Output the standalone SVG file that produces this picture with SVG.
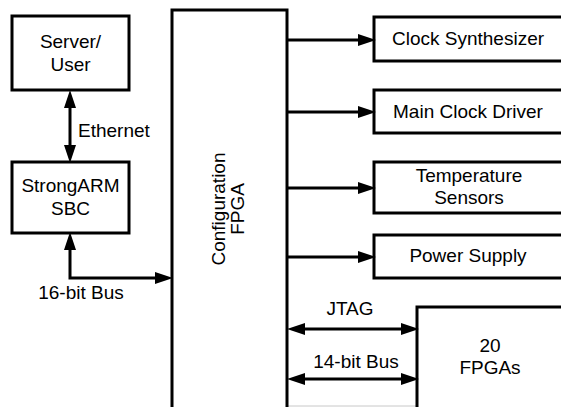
<svg xmlns="http://www.w3.org/2000/svg" width="561" height="407" viewBox="0 0 561 407">
<defs>
<style>
.box{fill:#fff;stroke:#000;stroke-width:3}
.ln{fill:none;stroke:#000;stroke-width:3}
text{font-family:"Liberation Sans",Arial,sans-serif;font-size:19px;fill:#000;text-anchor:middle}
</style>
<marker id="ah" markerUnits="userSpaceOnUse" viewBox="0 0 18 12" markerWidth="18" markerHeight="12" refX="8" refY="6" orient="auto-start-reverse">
<path d="M0,0 L18,6 L0,12 z" fill="#000"/>
</marker>
</defs>
<rect x="0" y="0" width="561" height="407" fill="#fff"/>
<line x1="173" y1="406" x2="561" y2="406" stroke="#c8c8c8" stroke-width="1"/>
<g id="server">
<rect class="box" x="12" y="16" width="117" height="74"/>
<text x="70.5" y="48">Server/</text>
<text x="70.5" y="71">User</text>
</g>
<g id="sbc">
<rect class="box" x="12" y="162" width="117" height="71"/>
<text x="70.5" y="192">StrongARM</text>
<text x="70.5" y="215">SBC</text>
</g>
<g id="config">
<rect class="box" x="172" y="10" width="115" height="420"/>
<text transform="translate(225,209) rotate(-90)">Configuration</text>
<text transform="translate(244,209) rotate(-90)" x="0" y="0">FPGA</text>
</g>
<g id="clocksynth">
<rect class="box" x="374" y="17" width="200" height="44"/>
<text x="468" y="45">Clock Synthesizer</text>
</g>
<g id="mainclock">
<rect class="box" x="374" y="90" width="200" height="43"/>
<text x="468" y="118">Main Clock Driver</text>
</g>
<g id="temp">
<rect class="box" x="374" y="162" width="200" height="51"/>
<text x="469" y="182">Temperature</text>
<text x="469" y="204">Sensors</text>
</g>
<g id="power">
<rect class="box" x="374" y="235" width="200" height="43"/>
<text x="468" y="262">Power Supply</text>
</g>
<g id="fpgas">
<rect class="box" x="417" y="307" width="200" height="120"/>
<text x="490" y="352">20</text>
<text x="490" y="374">FPGAs</text>
</g>
<g id="connectors">
<line class="ln" x1="70" y1="100" x2="70" y2="153" marker-start="url(#ah)" marker-end="url(#ah)"/>
<text x="78" y="137" style="text-anchor:start">Ethernet</text>
<polyline class="ln" points="70,242 70,278 163,278" marker-start="url(#ah)" marker-end="url(#ah)"/>
<text x="81" y="299">16-bit Bus</text>
<line class="ln" x1="287" y1="40" x2="366" y2="40" marker-end="url(#ah)"/>
<line class="ln" x1="287" y1="112" x2="366" y2="112" marker-end="url(#ah)"/>
<line class="ln" x1="287" y1="188" x2="366" y2="188" marker-end="url(#ah)"/>
<line class="ln" x1="287" y1="257" x2="366" y2="257" marker-end="url(#ah)"/>
<line class="ln" x1="297" y1="329" x2="409" y2="329" marker-start="url(#ah)" marker-end="url(#ah)"/>
<text x="350" y="315">JTAG</text>
<line class="ln" x1="297" y1="379" x2="409" y2="379" marker-start="url(#ah)" marker-end="url(#ah)"/>
<text x="356" y="368">14-bit Bus</text>
</g>
</svg>
